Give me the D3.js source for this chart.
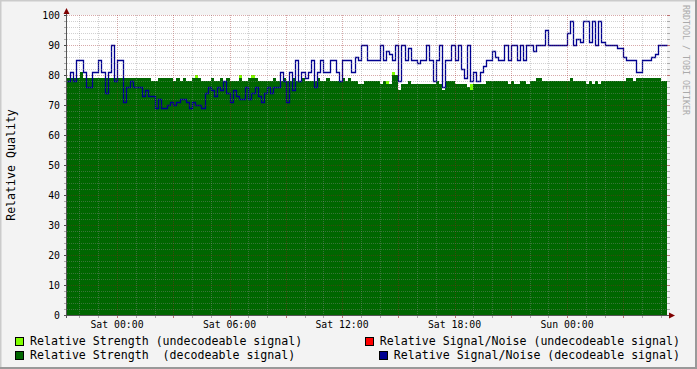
<!DOCTYPE html>
<html><head><meta charset="utf-8">
<script src="https://cdn.jsdelivr.net/npm/d3@7"></script>
<style>html,body{margin:0;padding:0;background:#f3f3f3;} svg{display:block;}</style>
</head><body>
<svg id="c" width="697" height="369"></svg>
<script>
// ---------- data ----------
const startTime = new Date(1999, 11, 31, 21, 20); // Fri 21:20
const stepMinutes = 10;

// Relative Signal/Noise (decodeable signal), one value per 10 min
const snrDecodeable = [
  78, 81, 78, 85, 85, 81, 76, 76, 81, 81, 85, 81, 74, 81, 90, 78,
  85, 85, 71, 76, 78, 76, 76, 76, 73, 75, 73, 73, 69, 72, 69, 69,
  70, 71, 70, 71, 72, 72, 71, 69, 71, 70, 70, 69, 74, 76, 75, 73,
  76, 75, 78, 74, 71, 75, 73, 72, 72, 76, 72, 74, 76, 73, 71, 74,
  76, 74, 76, 76, 81, 78, 71, 81, 75, 85, 78, 81, 79, 81, 85, 76,
  81, 85, 81, 81, 85, 85, 81, 78, 85, 85, 85, 81, 86, 85, 90, 90,
  85, 85, 85, 85, 90, 85, 88, 87, 85, 90, 78, 90, 85, 89, 85, 85,
  84, 85, 85, 90, 85, 78, 85, 90, 76, 85, 85, 90, 85, 90, 82, 79,
  90, 78, 81, 78, 81, 83, 85, 85, 88, 86, 85, 85, 90, 85, 90, 90,
  85, 90, 85, 90, 90, 88, 90, 90, 90, 95, 90, 90, 90, 90, 90, 90,
  94, 98, 90, 92, 91, 98, 98, 91, 98, 90, 98, 91, 90, 90, 90, 90,
  89, 89, 86, 85, 85, 85, 81, 81, 85, 85, 85, 86, 87, 90, 90, 90
];

// Relative Strength (decodeable signal)
const strengthDecodeable = [
  79, 79, 79, 79, 81, 79, 79, 79, 79, 79, 79, 79, 79, 79, 79, 79,
  79, 79, 79, 79, 79, 79, 79, 79, 79, 79, 79, 78, 78, 79, 79, 79,
  79, 79, 78, 79, 78, 79, 78, 78, 79, 79, 79, 78, 78, 78, 79, 78,
  78, 79, 78, 79, 78, 78, 78, 79, 78, 78, 79, 79, 79, 78, 78, 78,
  78, 78, 79, 78, 78, 79, 78, 78, 79, 78, 78, 79, 78, 78, 78, 78,
  79, 78, 78, 79, 78, 78, 78, 78, 79, 78, 79, 78, 78, 77, 77, 78,
  78, 78, 78, 78, 77, 78, 77, 77, 80, 80, 75, 77, 77, 78, 77, 77,
  77, 77, 77, 77, 77, 77, 78, 77, 75, 78, 78, 78, 77, 77, 77, 77,
  76, 75, 77, 77, 77, 77, 78, 78, 78, 78, 78, 78, 78, 77, 78, 77,
  77, 78, 78, 77, 78, 78, 79, 79, 78, 78, 78, 78, 78, 78, 78, 78,
  78, 79, 78, 78, 78, 78, 77, 78, 77, 78, 77, 78, 78, 78, 78, 78,
  78, 78, 78, 79, 79, 78, 79, 79, 79, 79, 79, 79, 79, 79, 78, 78
];

// Relative Strength (undecodeable signal): sparse samples (slot index, value)
const undecodeableSlot = [41, 55, 59, 102, 104, 129];
const undecodeableStrength = [80, 80, 80, 78, 81, 77];

const yTickValues = [0, 10, 20, 30, 40, 50, 60, 70, 80, 90, 100];

const legendLabels = [
  "Relative Strength (undecodeable signal)",
  "Relative Signal/Noise (undecodeable signal)",
  "Relative Strength  (decodeable signal)",
  "Relative Signal/Noise (decodeable signal)"
];
const legendColors = ["#80ff00", "#ff0000", "#006600", "#000090"];

// ---------- layout ----------
const W = 697, H = 369;
const X0 = 67, X1 = 667, Y0 = 315, Y1 = 15;
const MONO = "'DejaVu Sans Mono', monospace";

const svg = d3.select("#c");
const endTime = d3.timeMinute.offset(startTime, stepMinutes * snrDecodeable.length);
const x = d3.scaleTime().domain([startTime, endTime]).range([X0, X1]);
const y = d3.scaleLinear().domain([0, 100]).range([Y0, Y1]);
const tAt = i => d3.timeMinute.offset(startTime, i * stepMinutes);

// background + 3D border
svg.append("rect").attr("width", W).attr("height", H).attr("fill", "#f3f3f3");
svg.append("path").attr("d", `M0,${H} V0 H${W}`).attr("fill", "none")
   .attr("stroke", "#cbcbcb").attr("stroke-width", 3);
svg.append("path").attr("d", `M0,${H} H${W} V0`).attr("fill", "none")
   .attr("stroke", "#999999").attr("stroke-width", 4);

// canvas
svg.append("rect").attr("x", X0).attr("y", Y1).attr("width", X1 - X0).attr("height", Y0 - Y1).attr("fill", "#ffffff");

// data series
function toPts(vals) {
  const p = vals.map((v, i) => ({ t: tAt(i), v }));
  p.push({ t: endTime, v: vals[vals.length - 1] });
  return p;
}

// undecodeable strength (behind)
svg.append("g").selectAll("rect").data(undecodeableSlot.map((s, k) => ({ s, v: undecodeableStrength[k] })))
  .join("rect")
  .attr("x", d => x(tAt(d.s)))
  .attr("width", d => x(tAt(d.s + 1)) - x(tAt(d.s)))
  .attr("y", d => y(d.v))
  .attr("height", d => y(0) - y(d.v))
  .attr("fill", legendColors[0])
  .attr("shape-rendering", "crispEdges");

const area = d3.area().x(d => x(d.t)).y0(y(0)).y1(d => y(d.v)).curve(d3.curveStepAfter);
svg.append("path").datum(toPts(strengthDecodeable)).attr("d", area)
  .attr("fill", legendColors[2]).attr("shape-rendering", "crispEdges");

const line = d3.line().x(d => Math.round(x(d.t)) + 0.5).y(d => Math.round(y(d.v)) + 0.5).curve(d3.curveStepAfter);
svg.append("path").datum(toPts(snrDecodeable)).attr("d", line)
  .attr("fill", "none").attr("stroke", legendColors[3]).attr("stroke-width", 1.3)
  .attr("stroke-linejoin", "miter");

// grid
const minorCol = "rgba(140,140,140,0.4)";
const majorCol = "rgba(150,30,30,0.38)";
const g = svg.append("g").attr("shape-rendering", "crispEdges");
const hours = d3.timeHour.every(1).range(startTime, endTime);
hours.forEach(h => {
  const major = h.getHours() % 3 === 0;
  const xx = Math.round(x(h)) + 0.5;
  g.append("line").attr("x1", xx).attr("x2", xx).attr("y1", Y1).attr("y2", Y0)
    .attr("stroke", major ? majorCol : minorCol).attr("stroke-dasharray", "1,1");
  g.append("line").attr("x1", xx).attr("x2", xx).attr("y1", Y0).attr("y2", Y0 + 3)
    .attr("stroke", major ? "rgba(150,30,30,0.6)" : "rgba(140,140,140,0.7)");
});
d3.range(0, 101, 2).forEach(v => {
  const major = v % 10 === 0;
  const yy = Math.round(y(v)) + 0.5;
  if (v > 0) g.append("line").attr("x1", X0).attr("x2", X1).attr("y1", yy).attr("y2", yy)
    .attr("stroke", major ? majorCol : minorCol).attr("stroke-dasharray", "1,1");
  g.append("line").attr("x1", X1).attr("x2", X1 + 3).attr("y1", yy).attr("y2", yy)
    .attr("stroke", major ? "rgba(150,30,30,0.6)" : "rgba(140,140,140,0.7)");
  g.append("line").attr("x1", X0 - 3).attr("x2", X0).attr("y1", yy).attr("y2", yy)
    .attr("stroke", major ? "#444" : "rgba(140,140,140,0.7)");
});

// axes
svg.append("line").attr("x1", X0 - 0.5).attr("x2", X0 - 0.5).attr("y1", Y0 + 3).attr("y2", Y1 - 4)
  .attr("stroke", "#555").attr("shape-rendering", "crispEdges");
svg.append("line").attr("x1", X0 - 3).attr("x2", X1 + 3).attr("y1", Y0 + 0.5).attr("y2", Y0 + 0.5)
  .attr("stroke", "#555").attr("shape-rendering", "crispEdges");
svg.append("path").attr("d", `M${X0 - 3.5},${Y1 - 1} L${X0 + 2.5},${Y1 - 1} L${X0 - 0.5},${Y1 - 7} Z`).attr("fill", "#7f0000");
svg.append("path").attr("d", `M${X1 + 2},${Y0 - 2.5} L${X1 + 2},${Y0 + 3.5} L${X1 + 8},${Y0 + 0.5} Z`).attr("fill", "#7f0000");

// y labels
svg.append("g").selectAll("text").data(yTickValues).join("text")
  .attr("x", 60).attr("y", d => y(d)).attr("dy", "0.36em")
  .attr("text-anchor", "end").attr("font-family", MONO).attr("font-size", "9.8px").attr("fill", "#000")
  .text(d => d);

// x labels
const fmt = d3.timeFormat("%a %H:%M");
svg.append("g").selectAll("text").data(d3.timeHour.every(6).range(startTime, endTime)).join("text")
  .attr("x", d => x(d)).attr("y", 328).attr("text-anchor", "middle")
  .attr("font-family", MONO).attr("font-size", "9.8px").attr("fill", "#000")
  .text(d => fmt(d));

// y title
svg.append("text").attr("transform", `translate(15,${(Y0 + Y1) / 2}) rotate(-90)`)
  .attr("text-anchor", "middle").attr("font-family", MONO).attr("font-size", "11.6px").attr("fill", "#000")
  .text("Relative Quality");

// watermark
svg.append("text").attr("transform", "translate(683,60) rotate(90)")
  .attr("text-anchor", "middle").attr("font-family", MONO).attr("font-size", "8.3px").attr("fill", "#aaaaaa")
  .text("RRDTOOL / TOBI OETIKER");

// legend
const rows = [345, 359];
legendLabels.forEach((lab, k) => {
  const row = Math.floor(k / 2), col = k % 2;
  const t = svg.append("text").attr("y", rows[row]).attr("font-family", MONO).attr("font-size", "11.6px")
    .attr("fill", "#000").attr("xml:space", "preserve").style("white-space", "pre").text(lab);
  let tx;
  if (col === 0) { tx = 30; t.attr("x", tx); }
  else { t.attr("x", 680).attr("text-anchor", "end"); tx = 680 - t.node().getComputedTextLength(); }
  svg.append("rect").attr("x", Math.round(tx - 15) + 0.5).attr("y", rows[row] - 7.5).attr("width", 8).attr("height", 8)
    .attr("fill", legendColors[k]).attr("stroke", "#000").attr("stroke-width", 1);
});
</script>
</body></html>
